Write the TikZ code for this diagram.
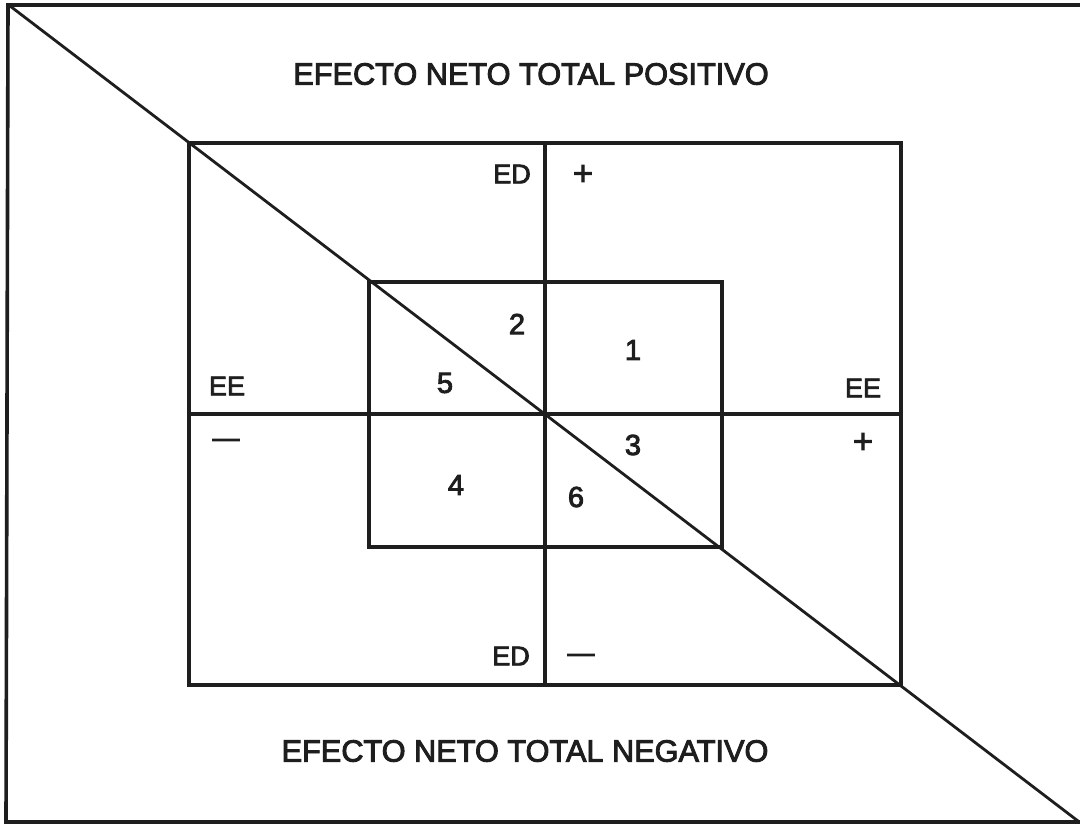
\documentclass[tikz,border=0pt]{standalone}
\usepackage{fontspec}
\setmainfont{Liberation Sans}
\newfontfamily\medfont{Liberation Sans}[FakeBold=3]
\definecolor{ink}{HTML}{1E1E1E}
\begin{document}
\begin{tikzpicture}[x=1pt,y=-1pt,
  frame/.style={draw=ink,line width=3.6pt},
  box/.style={draw=ink,line width=3.2pt},
  diag/.style={draw=ink,line width=2.8pt},
  title/.style={text=ink,font=\medfont\fontsize{30.7}{36}\selectfont,inner sep=0pt},
  lab/.style={text=ink,font=\medfont\fontsize{27}{32}\selectfont,inner sep=0pt},
  sgn/.style={text=ink,font=\medfont\fontsize{34}{38}\selectfont,inner sep=0pt},
  num/.style={text=ink,font=\medfont\fontsize{29}{34}\selectfont,inner sep=0pt}]
\useasboundingbox (0,0) rectangle (1080,823);
\fill[white] (0,0) rectangle (1080,823);
% outer frame
\coordinate (otl) at (8,5);
\coordinate (otr) at (1085,5);
\coordinate (obl) at (6,822);
\coordinate (obr) at (1085,822);
\draw[frame] (otr) -- (otl) -- (obl) -- (obr);
% middle rectangle and axes
\coordinate (mtl) at (189,143);
\coordinate (mbr) at (901,685);
\coordinate (vt) at (545,143);
\coordinate (vb) at (545,685);
\coordinate (hl) at (189,414);
\coordinate (hr) at (901,414);
\draw[box] (mtl) rectangle (mbr);
\draw[box] (vt) -- (vb);
\draw[box] (hl) -- (hr);
% inner rectangle
\coordinate (itl) at (369,282);
\coordinate (ibr) at (722,547);
\draw[box] (itl) rectangle (ibr);
% diagonal
\coordinate (d1) at (10,6);
\coordinate (d2) at (1078,821);
\draw[diag] (d1) -- (d2);
% titles
\node[title] (tpos) at (531,74) {EFECTO NETO TOTAL POSITIVO};
\node[title] (tneg) at (525,751) {EFECTO NETO TOTAL NEGATIVO};
% axis labels
\node[lab] (edt) at (512,174) {ED};
\node[sgn] (edtp) at (583,175) {+};
\node[lab] (edb) at (511,656) {ED};
\node[lab] (edbm) at (581,658) {—};
\node[lab] (eel) at (227,386) {EE};
\node[lab] (eelm) at (226,443) {—};
\node[lab] (eer) at (863,388) {EE};
\node[sgn] (eerp) at (863,443) {+};
% region numbers
\node[num] (n1) at (633,350) {1};
\node[num] (n2) at (517,324) {2};
\node[num] (n3) at (633,445) {3};
\node[num] (n4) at (456,485) {4};
\node[num] (n5) at (445,383) {5};
\node[num] (n6) at (576,497) {6};
\end{tikzpicture}
\end{document}
